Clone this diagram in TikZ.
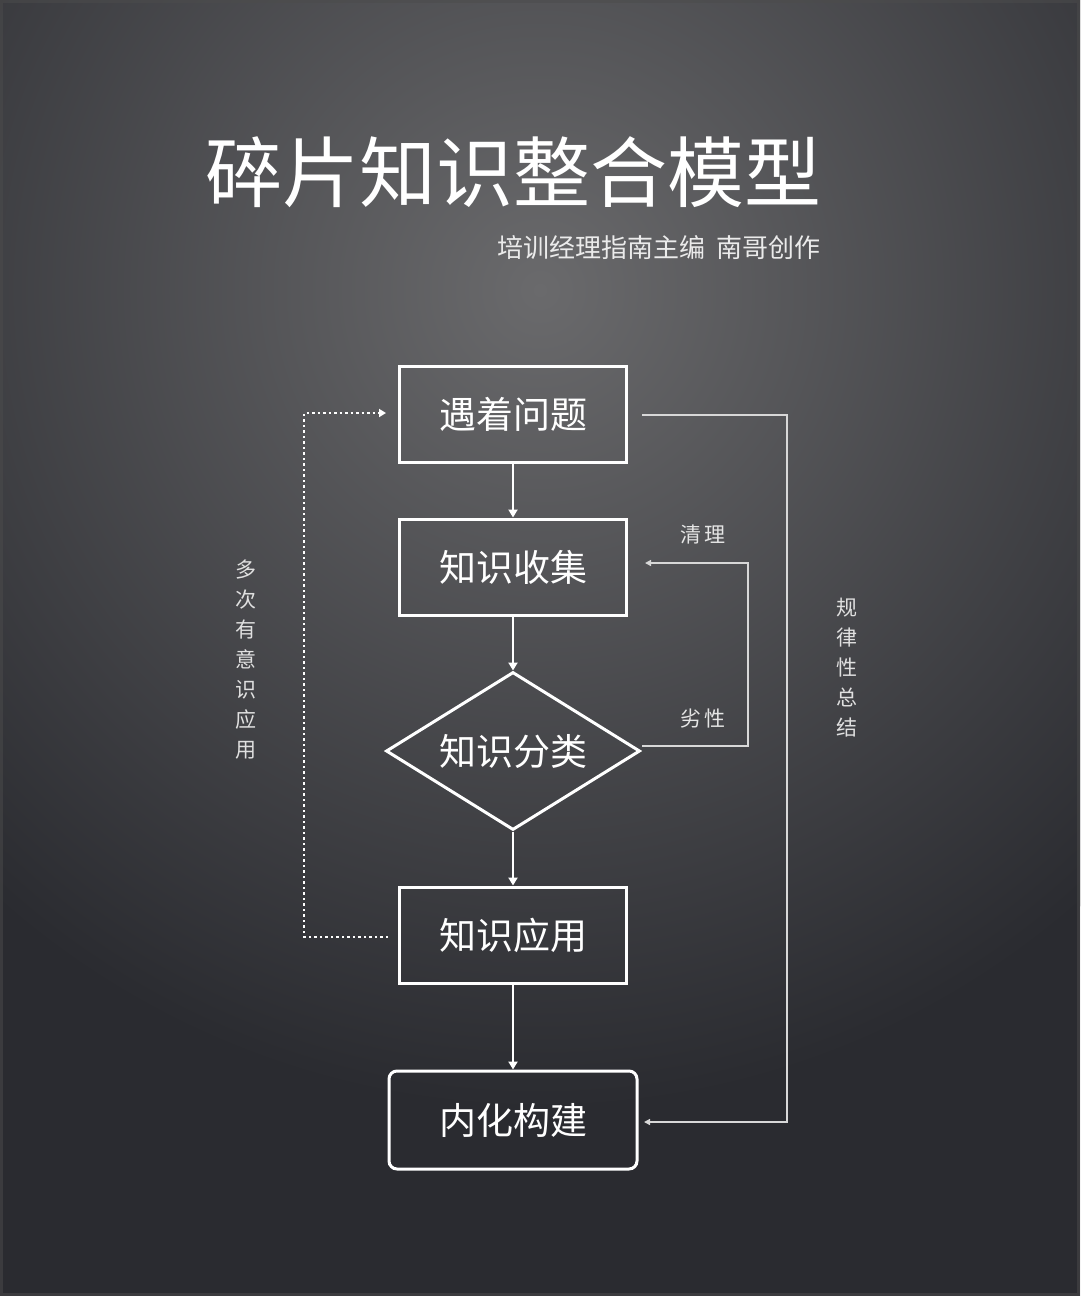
\documentclass[tikz,border=0pt]{standalone}
\usepackage{fontspec}
\newfontfamily\cjk{Noto Sans CJK SC}
\usetikzlibrary{shapes.geometric,arrows.meta,shadings}
\definecolor{bgdark}{HTML}{2A2B30}
\definecolor{bglight}{HTML}{6A6A6C}
\definecolor{thinline}{HTML}{D8D8D8}
\tikzset{
  box/.style={draw=white, line width=3pt, minimum width=227pt, minimum height=96pt, inner sep=0pt, text=white, font=\cjk\fontsize{37}{40}\selectfont},
  dia/.style={diamond, aspect=1.6, draw=white, line width=3pt, minimum width=254pt, minimum height=158pt, inner sep=0pt, text=white, font=\cjk\fontsize{37}{40}\selectfont},
  flow/.style={draw=white, line width=2.6pt, -{Triangle[width=9pt,length=8pt]}},
  thin/.style={draw=thinline, line width=1.4pt, -{Triangle[width=6pt,length=6pt]}},
  dots/.style={draw=white, line width=2.5pt, dash pattern=on 2.5pt off 3pt, -{Triangle[width=8pt,length=7pt]}},
  lbl/.style={text=white!90!black, font=\cjk\fontsize{21}{22}\selectfont},
  vlbl/.style={text=white!88!black, font=\cjk\fontsize{21}{30}\selectfont, align=center, inner sep=0pt}
}
\begin{document}
\begin{tikzpicture}[x=1pt,y=-1pt]
\useasboundingbox (0,0) rectangle (1080,1296);
\begin{scope}
\clip (0,0) rectangle (1080,1296);
\fill[bgdark] (0,0) rectangle (1080,1296);
\shade[inner color=bglight, outer color=bgdark] (540,290) circle (820);
\draw[black!70, line width=6pt, opacity=0.5] (0,0) rectangle (1080,1296);
\end{scope}

\node[text=white, font=\cjk\fontsize{77}{80}\selectfont, inner sep=0pt] (title) at (513,172) {碎片知识整合模型};
\node[text=white!92!black, font=\cjk\fontsize{26}{28}\selectfont, inner sep=0pt, anchor=east] (sub) at (821,248) {培训经理指南主编\hspace{0.45em}南哥创作};

\node[box] (b1) at (513,414) {遇着问题};
\node[box] (b2) at (513,567) {知识收集};
\node[dia] (d) at (513,751) {知识分类};
\node[box] (b3) at (513,935) {知识应用};
\node[box, rounded corners=8pt, minimum width=248pt, minimum height=98pt] (b4) at (513,1120) {内化构建};

\draw[flow] (b1.south) -- (b2.north);
\draw[flow] (b2.south) -- (d.north);
\draw[flow] (d.south) -- (b3.north);
\draw[flow] (b3.south) -- (b4.north);

\coordinate (dotA) at (388,937);
\coordinate (dotB) at (386,413);
\draw[dots] (dotA) -| (304,413) -- (dotB);

\coordinate (rA) at (642,415);
\coordinate (rB) at (644,1122);
\draw[thin] (rA) -| (787,1122) -- (rB);

\coordinate (cA) at (642,746);
\coordinate (cB) at (645,563);
\draw[thin] (cA) -| (748,563) -- (cB);

\node[lbl] (l1) at (703,535) {清\hspace{0.15em}理};
\node[lbl] (l2) at (703,719) {劣\hspace{0.15em}性};

\node[vlbl, anchor=north] (lv) at (246,560) {多\\次\\有\\意\\识\\应\\用};
\node[vlbl, anchor=north] (rv) at (847,598) {规\\律\\性\\总\\结};
\end{tikzpicture}
\end{document}
